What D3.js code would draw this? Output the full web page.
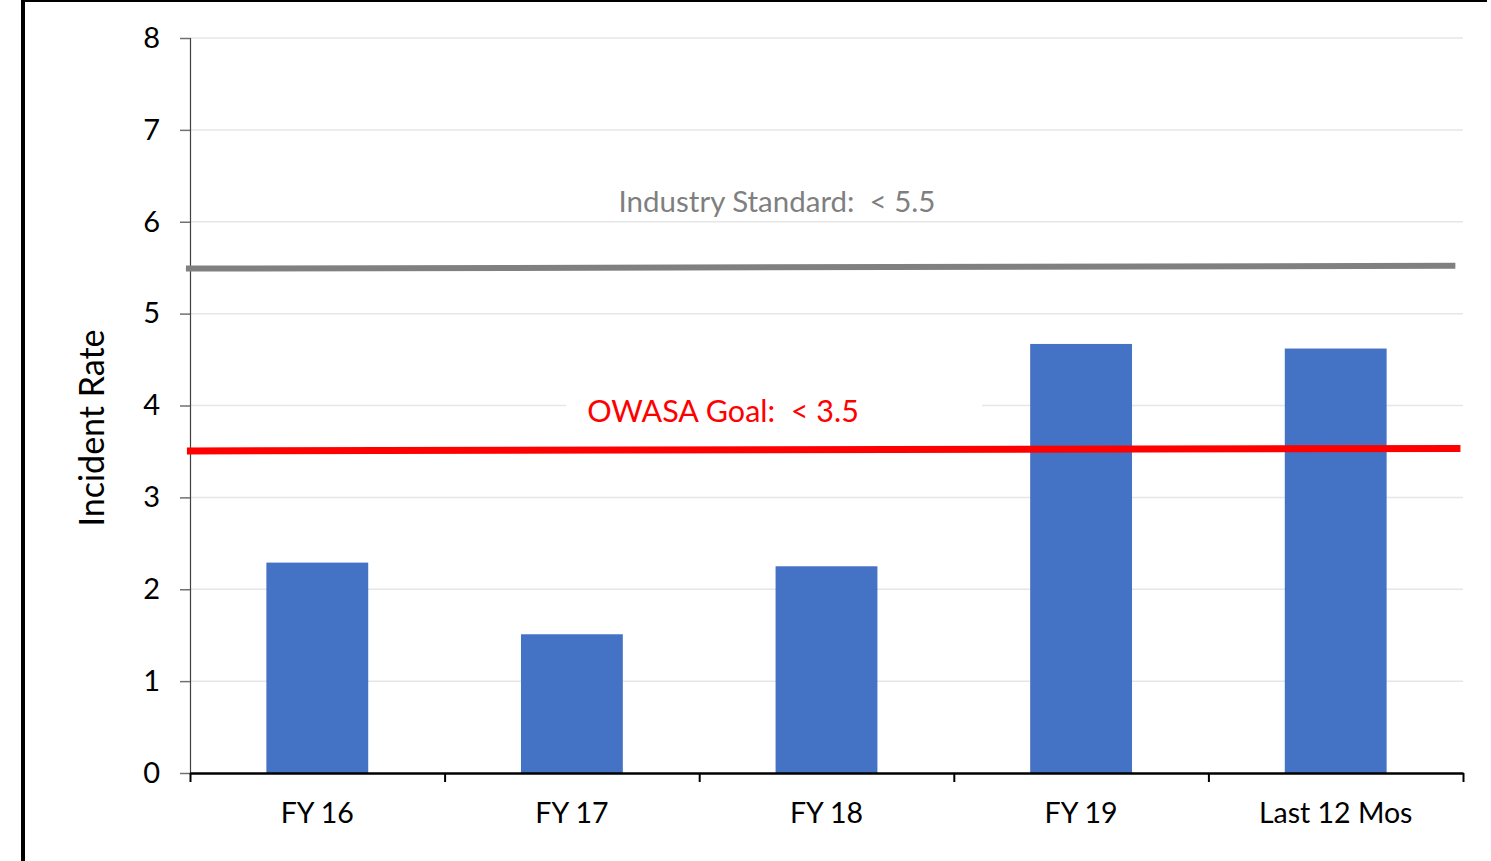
<!DOCTYPE html>
<html>
<head>
<meta charset="utf-8">
<script src="https://cdn.jsdelivr.net/npm/d3@7"></script>
<style>
  html, body { margin: 0; padding: 0; background: #fff; }
  svg { display: block; font-family: Lato, "Open Sans", sans-serif; }
</style>
</head>
<body>
<svg id="chart" width="1491" height="861"></svg>
<script>
// ---- data ----
const categories = ["FY 16", "FY 17", "FY 18", "FY 19", "Last 12 Mos"];
const incidentRates = [2.29, 1.51, 2.25, 4.67, 4.62];
const yTicks = [0, 1, 2, 3, 4, 5, 6, 7, 8];
const yTickLabels = ["0", "1", "2", "3", "4", "5", "6", "7", "8"];
const yAxisTitle = "Incident Rate";
// reference lines: [start, end] in (category-index position, value)
const industryPos = [-0.016, 4.97];
const industryVals = [5.49, 5.52];
const industryLabel = "Industry Standard:  < 5.5";
const goalPos = [-0.012, 4.99];
const goalVals = [3.505, 3.533];
const goalLabel = "OWASA Goal:  < 3.5";

(function () {
// ---- layout ----
const svg = d3.select("#chart");
const plotL = 190, plotR = 1463, plotT = 38, plotB = 773;

const x = d3.scaleBand().domain(categories).range([plotL, plotR])
  .paddingInner(0.6).paddingOuter(0.3);
const xPos = d3.scaleLinear().domain([0, categories.length]).range([plotL, plotR]);
const y = d3.scaleLinear().domain([0, 8]).range([plotB, plotT]);

// frame border (left + top)
svg.append("line").attr("x1", 23).attr("x2", 23).attr("y1", 0).attr("y2", 861)
  .attr("stroke", "#000").attr("stroke-width", 4);
svg.append("line").attr("x1", 21).attr("x2", 1487).attr("y1", 1).attr("y2", 1)
  .attr("stroke", "#000").attr("stroke-width", 2);

// gridlines
svg.append("g").selectAll("line").data(yTicks.filter(d => d > 0)).join("line")
  .attr("x1", plotL).attr("x2", plotR)
  .attr("y1", d => y(d)).attr("y2", d => y(d))
  .attr("stroke", "#e6e6e6").attr("stroke-width", 1.5);

// y axis
const yAxis = d3.axisLeft(y).tickValues(yTicks)
  .tickFormat((d, i) => yTickLabels[i]).tickSize(10).tickPadding(20);
const gy = svg.append("g").attr("transform", `translate(${plotL},0)`).call(yAxis);
gy.select(".domain").attr("stroke", "#404040").attr("stroke-width", 1.2);
gy.selectAll(".tick line").attr("stroke", "#707070").attr("stroke-width", 1.5);
gy.selectAll(".tick text").attr("font-size", 29).attr("fill", "#000")
  .attr("font-family", "Lato, sans-serif");

// y axis title
svg.append("text")
  .attr("transform", `translate(104,428) rotate(-90)`)
  .attr("text-anchor", "middle")
  .attr("font-size", 34).attr("fill", "#000")
  .text(yAxisTitle);

// bars
svg.append("g").selectAll("rect").data(incidentRates).join("rect")
  .attr("x", (d, i) => x(categories[i]))
  .attr("width", x.bandwidth())
  .attr("y", d => y(d))
  .attr("height", d => y(0) - y(d))
  .attr("fill", "#4472C4");

// x axis
const xAxis = d3.axisBottom(xPos).tickValues(d3.range(categories.length + 1))
  .tickFormat("").tickSize(9).tickSizeOuter(0);
const gx = svg.append("g").attr("transform", `translate(0,${plotB})`).call(xAxis);
gx.select(".domain").attr("stroke", "#000").attr("stroke-width", 2.5);
gx.selectAll(".tick line").attr("stroke", "#000").attr("stroke-width", 2);

svg.append("g").selectAll("text").data(categories).join("text")
  .attr("x", d => x(d) + x.bandwidth() / 2)
  .attr("y", 823)
  .attr("text-anchor", "middle")
  .attr("font-size", 28.5).attr("fill", "#000")
  .text(d => d);

// industry standard line
const line = d3.line().x(d => xPos(d[0])).y(d => y(d[1]));
svg.append("path")
  .datum(industryPos.map((p, i) => [p, industryVals[i]]))
  .attr("d", line).attr("fill", "none")
  .attr("stroke", "#808080").attr("stroke-width", 6);

svg.append("text")
  .attr("x", 777).attr("y", 212)
  .attr("text-anchor", "middle")
  .attr("font-size", 29.5).attr("fill", "#7f7f7f")
  .style("white-space", "pre")
  .text(industryLabel);

// OWASA label with white background
svg.append("rect").attr("x", 566).attr("y", 392).attr("width", 416).attr("height", 38)
  .attr("fill", "#fff");
svg.append("text")
  .attr("x", 723).attr("y", 422)
  .attr("text-anchor", "middle")
  .attr("font-size", 30.5).attr("fill", "#ff0000")
  .style("white-space", "pre")
  .text(goalLabel);

// goal line
svg.append("path")
  .datum(goalPos.map((p, i) => [p, goalVals[i]]))
  .attr("d", line).attr("fill", "none")
  .attr("stroke", "#ff0000").attr("stroke-width", 7);
})();
</script>
</body>
</html>
